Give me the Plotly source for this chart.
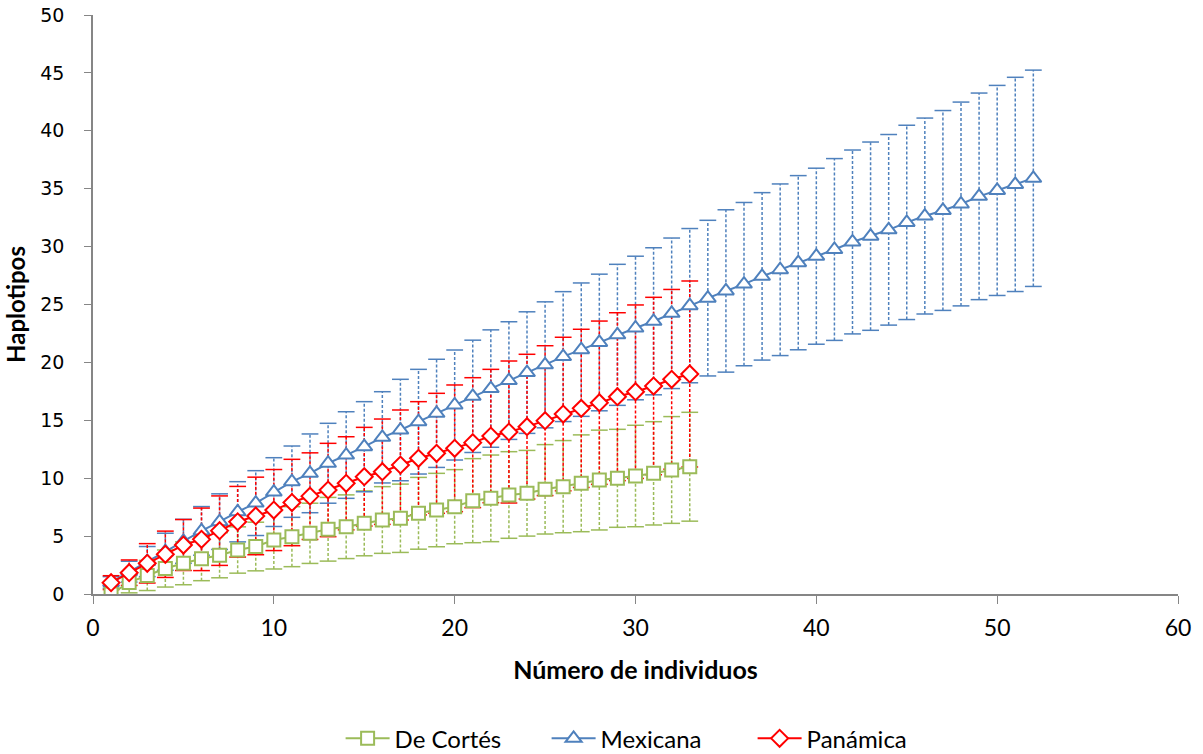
import plotly.graph_objects as go

# ---------------- data ----------------
n_cortes = list(range(1, 34))
mean_cortes = [0.0, 1.0, 1.6, 2.2, 2.65, 3.05, 3.35, 3.8, 4.1, 4.66, 4.95, 5.24, 5.59, 5.81, 6.1,
               6.39, 6.54, 6.97, 7.25, 7.54, 8.06, 8.26, 8.55, 8.70, 9.04, 9.27, 9.56, 9.84, 9.99,
               10.19, 10.42, 10.71, 10.99]
sd_cortes = [0.0, 0.9, 1.3, 1.6, 1.85, 1.9, 1.95, 2.0, 2.1, 2.5, 2.59, 2.6, 2.75, 2.75, 2.8,
             2.88, 2.95, 3.1, 3.17, 3.2, 3.63, 3.74, 3.74, 3.7, 3.86, 3.98, 4.18, 4.31, 4.23,
             4.38, 4.46, 4.61, 4.7]

n_mexicana = list(range(1, 53))
mean_mexicana = [1.0, 1.93, 2.8, 3.65, 4.55, 5.45, 6.25, 7.1, 7.85, 8.8, 9.7, 10.42, 11.29, 12.0,
                 12.72, 13.53, 14.16, 14.88, 15.6, 16.32, 17.07, 17.74, 18.43, 19.12, 19.79, 20.5,
                 21.1, 21.72, 22.38, 22.97, 23.55, 24.24, 24.9, 25.55, 26.17, 26.76, 27.43, 28.0,
                 28.61, 29.17, 29.75, 30.4, 30.9, 31.45, 32.09, 32.64, 33.12, 33.68, 34.34, 34.85,
                 35.37, 35.9]
sd_mexicana = [0.5, 0.9, 1.3, 1.6, 1.9, 2.1, 2.4, 2.6, 2.8, 2.97, 3.08, 3.4, 3.45, 3.74, 3.89,
               3.94, 4.38, 4.52, 4.67, 4.75, 4.85, 5.07, 5.08, 5.25, 5.44, 5.61, 5.76, 5.9, 6.09,
               6.2, 6.35, 6.5, 6.66, 6.72, 7.01, 7.05, 7.23, 7.41, 7.52, 7.6, 7.85, 7.94, 8.13,
               8.23, 8.39, 8.46, 8.63, 8.8, 8.92, 9.07, 9.25, 9.34]

n_panamica = list(range(1, 34))
mean_panamica = [0.98, 1.84, 2.65, 3.43, 4.23, 4.72, 5.47, 6.24, 6.74, 7.25, 7.9, 8.45, 8.98, 9.56,
                 10.13, 10.56, 11.14, 11.72, 12.15, 12.58, 13.07, 13.64, 13.99, 14.45, 14.97,
                 15.54, 16.03, 16.52, 17.04, 17.47, 17.96, 18.54, 19.0]
sd_panamica = [0.6, 1.1, 1.7, 2.0, 2.2, 2.7, 3.0, 3.05, 3.35, 3.5, 3.73, 3.74, 4.03, 4.02, 4.26,
               4.55, 4.75, 4.89, 5.18, 5.47, 5.61, 5.76, 6.13, 6.25, 6.47, 6.63, 6.83, 7.05,
               7.25, 7.49, 7.66, 7.76, 8.03]

series = [
    ("De Cortés", n_cortes, mean_cortes, sd_cortes, "#9BBB59", "square", 13),
    ("Mexicana", n_mexicana, mean_mexicana, sd_mexicana, "#4F81BD", "triangle-up", 14),
    ("Panámica", n_panamica, mean_panamica, sd_panamica, "#FF0000", "diamond", 13),
]

fig = go.Figure()

# error bars (dashed stems + caps), drawn below the series
for name, xs, ms, sds, col, sym, msize in series:
    ex, ey, cx, cy = [], [], [], []
    for x, m, s in zip(xs, ms, sds):
        if s <= 0:
            continue
        ex += [x, x, None]
        ey += [m - s, m + s, None]
        cx += [x, x]
        cy += [m - s, m + s]
    fig.add_trace(go.Scatter(x=ex, y=ey, mode="lines", showlegend=False, hoverinfo="skip",
                             line=dict(color=col, width=1.5, dash="3px,2px")))
    fig.add_trace(go.Scatter(x=cx, y=cy, mode="markers", showlegend=False, hoverinfo="skip",
                             marker=dict(symbol="line-ew", size=12,
                                         line=dict(color=col, width=1.5))))

for name, xs, ms, sds, col, sym, msize in series:
    fig.add_trace(go.Scatter(
        x=xs, y=ms, name=name, mode="lines+markers",
        line=dict(color=col, width=2),
        marker=dict(symbol=sym, size=msize, color="white", line=dict(color=col, width=2)),
    ))

axis_col = "#868686"
fig.update_layout(
    width=1203, height=754,
    paper_bgcolor="white", plot_bgcolor="white",
    margin=dict(l=93, r=25, t=15, b=160, autoexpand=False),
    showlegend=True,
    legend=dict(orientation="h", x=0.513, xanchor="center", y=-0.250, yanchor="middle",
                font=dict(family="Lato, Open Sans, sans-serif", size=24, color="#000"),
                traceorder="normal", itemwidth=44, entrywidth=147, entrywidthmode="pixels"),
    xaxis=dict(range=[0, 60], dtick=10, showgrid=False, zeroline=False, automargin=False,
               showline=True, linecolor=axis_col, linewidth=1.5, ticklabeloverflow="allow",
               ticks="outside", ticklen=8, tickcolor=axis_col, ticklabelstandoff=5,
               tickfont=dict(family="Lato, sans-serif", size=23, color="#000"),
               title=dict(text="<b>Número de individuos</b>", standoff=21,
                          font=dict(family="Lato, Open Sans, sans-serif", size=25, color="#000"))),
    yaxis=dict(range=[0, 50], dtick=5, showgrid=False, zeroline=False, automargin=False,
               showline=True, linecolor=axis_col, linewidth=1.5, ticklabeloverflow="allow",
               ticks="outside", ticklen=7, tickcolor=axis_col, ticklabelstandoff=16,
               tickfont=dict(family="DejaVu Sans, Verdana, sans-serif", size=19, color="#000"),
               title=dict(text="<b>Haplotipos</b>", standoff=8,
                          font=dict(family="Lato, Open Sans, sans-serif", size=24, color="#000"))),
)

fig.write_html("out.html", config={"displayModeBar": False},
               post_script="document.body.style.margin='0';document.body.style.overflow='hidden';")
